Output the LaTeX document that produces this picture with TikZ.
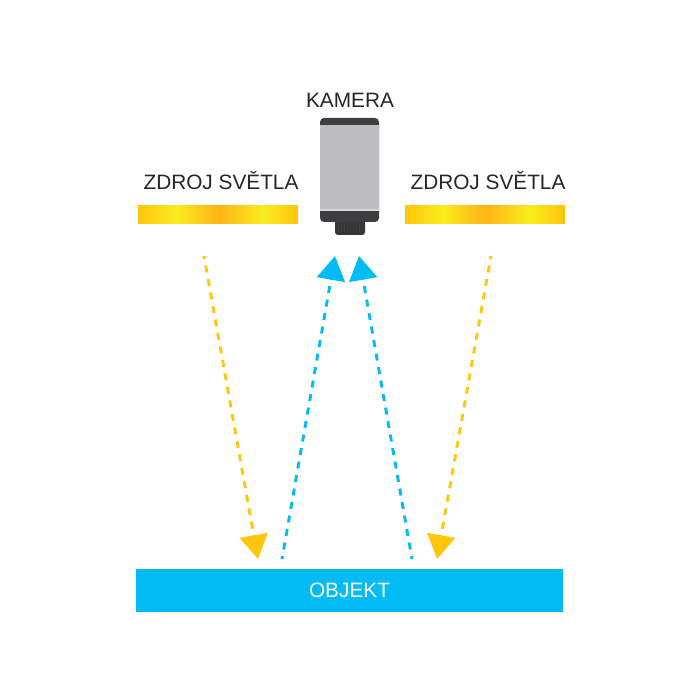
\documentclass[tikz,border=0pt]{standalone}
\usepackage{fontspec}
\setmainfont{Liberation Sans}
\usetikzlibrary{arrows.meta}
\definecolor{modra}{HTML}{00BBF4}
\definecolor{zluta}{HTML}{FFC60A}
\definecolor{jasna}{HTML}{F8EC1E}
\definecolor{oranz}{HTML}{FDB515}
\definecolor{tmava}{HTML}{3F3F41}
\definecolor{seda}{HTML}{BCBCC1}
\pgfdeclarehorizontalshading{svetlo}{100bp}{color(0bp)=(zluta); color(25bp)=(zluta); color(37bp)=(jasna); color(50bp)=(oranz); color(64bp)=(jasna); color(75bp)=(zluta); color(100bp)=(zluta)}
\tikzset{
  popis/.style={font=\fontsize{20.8}{24}\selectfont,inner sep=0pt,text=black!85},
  zdroj/.style={minimum width=160pt,minimum height=18pt,inner sep=0pt,shading=svetlo},
  objektbox/.style={fill=modra,minimum width=427pt,minimum height=43pt,inner sep=0pt,
    font=\fontsize{20.8}{24}\selectfont,text=white},
  paprsek/.style={line width=2.9pt,dash pattern=on 7pt off 6.7pt,dash phase=4pt,
    -{Triangle[length=24pt,width=28pt]}},
}

\begin{document}
\begin{tikzpicture}[x=1pt,y=-1pt]
    \useasboundingbox (0,0) rectangle (700,700);
    % kamera
    \fill[tmava!85!black,rounded corners=3pt] (335,215) rectangle (365,235);
    \foreach \x in {338,341,...,362}
      \draw[tmava,line width=0.5pt] (\x,222) -- (\x,232);
    \fill[tmava,rounded corners=4pt] (320,118) rectangle (379,222);
    \fill[seda] (320,125) rectangle (379,209);
    \fill[seda!60!white] (320,209) rectangle (379,211);
    \node[popis] (kamera) at (350,100) {KAMERA};
    % zdroje
    \node[zdroj] (zdrojL) at (218,215) {};
    \node[zdroj] (zdrojP) at (485,215) {};
    \node[popis] (popisL) at (221,181) {ZDROJ SVĚTLA};
    \node[popis] (popisP) at (488,181) {ZDROJ SVĚTLA};
    \node[objektbox] (objekt) at (349.5,590.5) {OBJEKT};
    % paprsky
    \coordinate (startL) at (204,256);
    \coordinate (startP) at (491,256);
    \coordinate (dopadL) at (258,559);
    \coordinate (dopadP) at (437,559);
    \coordinate (odrazL) at (282,559);
    \coordinate (odrazP) at (412,559);
    \coordinate (vstupL) at (335,256);
    \coordinate (vstupP) at (359,256);
    \draw[paprsek,zluta] (startL) -- (dopadL);
    \draw[paprsek,zluta] (startP) -- (dopadP);
    \draw[paprsek,modra] (odrazL) -- (vstupL);
    \draw[paprsek,modra] (odrazP) -- (vstupP);
  \end{tikzpicture}
\end{document}
